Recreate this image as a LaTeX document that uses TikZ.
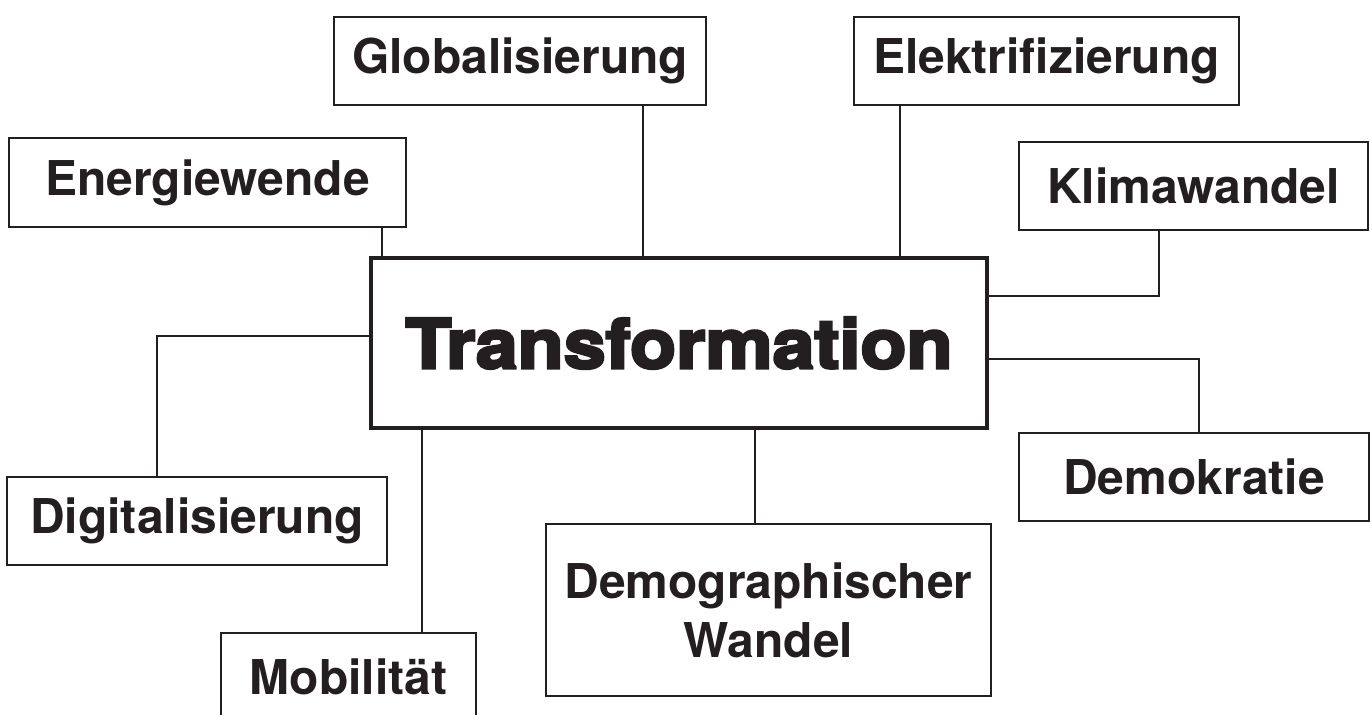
\documentclass[tikz,border=0pt]{standalone}
\usepackage{fontspec}
\setmainfont{TeX Gyre Heros}
\newfontfamily\corefont[BoldFeatures={FakeBold=4,FakeStretch=1.1}]{TeX Gyre Heros}
\definecolor{ink}{RGB}{35,31,32}
\tikzstyle{topic} = [rectangle, minimum height=1.76cm, text centered, draw=ink, line width=1.1pt, text=ink, font=\bfseries\fontsize{27.3}{33.6}\selectfont, align=center]
\tikzstyle{core} = [rectangle, minimum width=12.32cm, minimum height=3.4cm, text centered, draw=ink, line width=2.8pt, text=ink, font=\corefont\bfseries\fontsize{39}{42}\selectfont]
\tikzstyle{link} = [draw=ink, line width=1.1pt]

\begin{document}
\begin{tikzpicture}[x=0.2mm, y=-0.2mm]
\useasboundingbox (0,0) rectangle (1372,714);

\node (trans) [core] at (679,343) {Transformation};
\node (glob) [topic, minimum width=7.44cm] at (520,61) {Globalisierung};
\node (elek) [topic, minimum width=7.7cm] at (1046.5,61) {Elektrifizierung};
\node (energ) [topic, minimum width=7.94cm, minimum height=1.78cm] at (207.5,182.5) {Energiewende};
\node (klima) [topic, minimum width=6.98cm] at (1193.5,186) {Klimawandel};
\node (digi) [topic, minimum width=7.6cm] at (197,521) {Digitalisierung};
\node (demok) [topic, minimum width=7cm] at (1194,477) {Demokratie};
\node (demog) [topic, minimum width=8.9cm, minimum height=3.44cm] at (768.5,610) {Demographischer\\ Wandel};
\node (mobil) [topic, minimum width=5.1cm] at (348.5,677) {Mobilität};

\coordinate (g1) at ([xshift=2.46cm]glob.south);
\coordinate (e1) at ([xshift=-2.93cm]elek.south);
\coordinate (w1) at ([xshift=3.49cm]energ.south);
\coordinate (k1) at ([xshift=-0.69cm]klima.south);
\coordinate (m1) at ([xshift=-5.14cm]trans.south);
\coordinate (d1) at ([xshift=1.52cm]trans.south);

\draw[link] (g1) -- (g1 |- trans.north);
\draw[link] (e1) -- (e1 |- trans.north);
\draw[link] (w1) -- (w1 |- trans.north);
\draw[link] (k1) |- ([yshift=0.94cm]trans.east);
\draw[link] ([yshift=-0.32cm]trans.east) -| ([xshift=0.1cm]demok.north);
\draw[link] (d1) -- (d1 |- demog.north);
\draw[link] (m1) -- (m1 |- mobil.north);
\draw[link] ([yshift=0.14cm]trans.west) -| ([xshift=-0.8cm]digi.north);

\end{tikzpicture}
\end{document}
